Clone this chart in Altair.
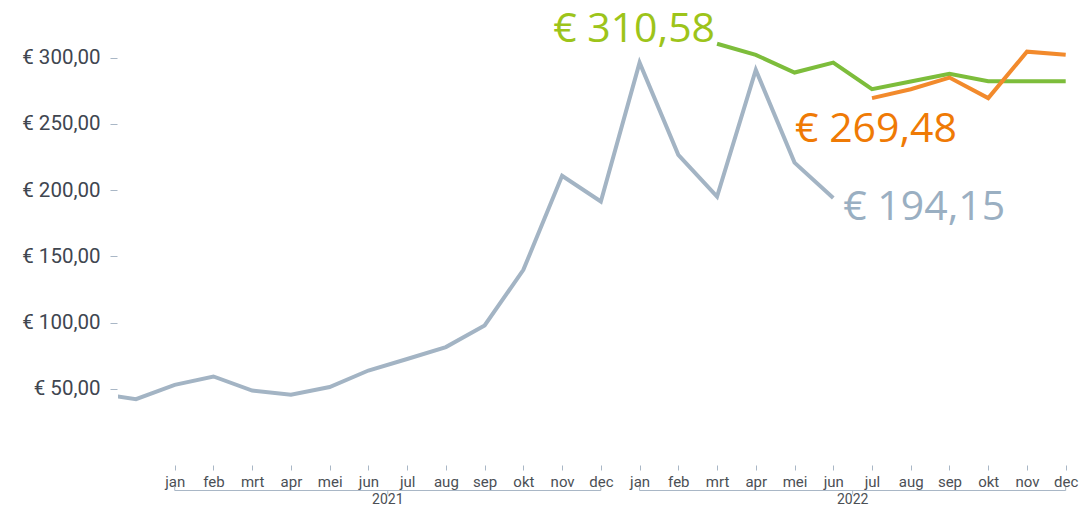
import altair as alt
import pandas as pd

# ---------------- data ----------------
month_labels = ["jan", "feb", "mrt", "apr", "mei", "jun", "jul", "aug", "sep", "okt", "nov", "dec"]

grey_periods = ["2020-11", "2020-12",
                "2021-01", "2021-02", "2021-03", "2021-04", "2021-05", "2021-06",
                "2021-07", "2021-08", "2021-09", "2021-10", "2021-11", "2021-12",
                "2022-01", "2022-02", "2022-03", "2022-04", "2022-05", "2022-06"]
grey_values = [46.4, 42.2,
               53.0, 59.3, 48.7, 45.5, 51.3, 63.8,
               72.5, 81.5, 97.8, 139.8, 210.8, 191.4,
               296.3, 226.7, 195.2, 290.8, 220.8, 194.15]

green_periods = ["2022-03", "2022-04", "2022-05", "2022-06", "2022-07",
                 "2022-08", "2022-09", "2022-10", "2022-11", "2022-12"]
green_values = [310.58, 302.1, 288.8, 296.3, 276.2, 282.0, 287.8, 282.3, 282.3, 282.3]

orange_periods = ["2022-07", "2022-08", "2022-09", "2022-10", "2022-11", "2022-12"]
orange_values = [269.48, 276.2, 285.0, 269.5, 304.6, 302.2]

years = ["2021", "2022"]
year_start = ["2021-01", "2022-01"]
year_end = ["2021-12", "2022-12"]

y_ticks = [50, 100, 150, 200, 250, 300]


def idx(p):
    y, m = p.split("-")
    return (int(y) - 2021) * 12 + int(m) - 1


def frame(periods, values, name):
    return pd.DataFrame({"i": [idx(p) for p in periods], "v": values, "s": name})


grey = frame(grey_periods, grey_values, "grey")
green = frame(green_periods, green_values, "green")
orange = frame(orange_periods, orange_values, "orange")

yr = pd.DataFrame({
    "year": years,
    "a": [idx(p) for p in year_start],
    "b": [idx(p) for p in year_end],
})
yr["mid"] = (yr["a"] + yr["b"]) / 2

# ---------------- style ----------------
GREY = "#a3b4c4"
GREEN = "#7dbd3b"
ORANGE = "#f28a2c"
AXIS_C = "#a9b7c6"

month_js = "[" + ",".join("'%s'" % m for m in month_labels) + "]"

xscale = alt.Scale(domain=[-1.464, 23.24], nice=False, zero=False)
yscale = alt.Scale(domain=[0, 330], nice=False)

x_axis = alt.Axis(values=list(range(0, 24)), labelExpr=month_js + "[datum.value % 12]",
                  title=None, domain=False, grid=False, ticks=True, tickSize=5,
                  tickColor=AXIS_C, offset=10, labelPadding=4, labelFont="Roboto",
                  labelFontSize=15, labelColor="#4b4f55", labelAngle=0)
y_axis = alt.Axis(values=y_ticks, title=None, domain=False, grid=False,
                  tickSize=7, tickColor=AXIS_C, offset=1, labelPadding=10,
                  labelFont="Roboto", labelFontSize=20.5, labelColor="#404650",
                  labelExpr="'€ ' + replace(format(datum.value, '.2f'), '.', ',')")


def X(field):
    return alt.X(field + ":Q", scale=xscale, axis=x_axis)


Y = alt.Y("v:Q", scale=yscale, axis=y_axis)


def line(df, color):
    return alt.Chart(df).mark_line(color=color, strokeWidth=4, clip=True,
                                   strokeJoin="miter").encode(x=X("i"), y=Y)


grey_lab = alt.Chart(grey.iloc[[-1]]).mark_text(
    text="€ 194,15", font="Open Sans", fontSize=41, color="#9aafc2",
    align="left", baseline="middle", dx=10, dy=10).encode(x=X("i"), y=Y)
green_lab = alt.Chart(green.iloc[[0]]).mark_text(
    text="€ 310,58", font="Open Sans", fontSize=41, color="#9dc41a",
    align="right", baseline="middle", dx=-2, dy=-14).encode(x=X("i"), y=Y)
orange_lab = alt.Chart(orange.iloc[[0]]).mark_text(
    text="€ 269,48", font="Open Sans", fontSize=41, color="#ef7a05",
    align="center", baseline="middle", dx=4, dy=32).encode(x=X("i"), y=Y)

BR_Y = 472.5
bracket = alt.Chart(yr).mark_rule(color=AXIS_C, strokeWidth=1).encode(
    x=X("a"), x2="b:Q", y=alt.value(BR_Y))
cap_a = alt.Chart(yr).mark_rule(color=AXIS_C, strokeWidth=1).encode(
    x=X("a"), y=alt.value(BR_Y - 3.5), y2=alt.value(BR_Y))
cap_b = alt.Chart(yr).mark_rule(color=AXIS_C, strokeWidth=1).encode(
    x=X("b"), y=alt.value(BR_Y - 3.5), y2=alt.value(BR_Y))
mid_tick = alt.Chart(yr).mark_rule(color=AXIS_C, strokeWidth=1).encode(
    x=X("mid"), y=alt.value(BR_Y), y2=alt.value(BR_Y + 4))
year_txt = alt.Chart(yr).mark_text(font="Roboto", fontSize=14, color="#4b4f55",
                                   baseline="middle").encode(
    x=X("mid"), y=alt.value(481.5), text="year:N")

chart = alt.layer(
    line(grey, GREY), line(green, GREEN), line(orange, ORANGE),
    grey_lab, green_lab, orange_lab,
    bracket, cap_a, cap_b, mid_tick, year_txt,
).properties(
    width=957, height=437,
    autosize=alt.AutoSizeParams(type="none"),
    padding={"left": 110, "top": 10, "right": 6, "bottom": 51},
).configure(background="white").configure_view(stroke=None)

chart.save("out.html", embed_options={"renderer": "svg", "actions": False})
